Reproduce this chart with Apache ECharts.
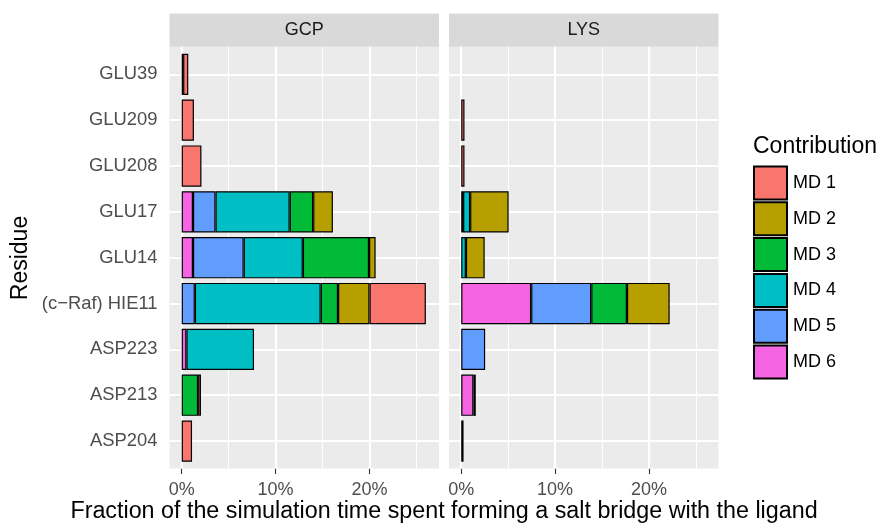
<!DOCTYPE html>
<html>
<head>
<meta charset="utf-8">
<script src="https://cdn.jsdelivr.net/npm/echarts@6/dist/echarts.min.js"></script>
<style>
  html, body { margin: 0; padding: 0; background: #ffffff; }
  #chart { width: 878px; height: 523px; }
</style>
</head>
<body>
<div id="chart"></div>
<script>
// Residues, top to bottom
const residues = ['GLU39', 'GLU209', 'GLU208', 'GLU17', 'GLU14', '(c\u2212Raf) HIE11', 'ASP223', 'ASP213', 'ASP204'];
const runs = ['MD 1', 'MD 2', 'MD 3', 'MD 4', 'MD 5', 'MD 6'];
const panelNames = ['GCP', 'LYS'];
const xTickValues = [0, 10, 20];
const xMinorValues = [5, 15, 25];

// Salt-bridge time fraction (%) per residue, GCP
const gcpMD1 = [0.55, 1.3, 2.1, 0, 0, 6.0, 0, 0.3, 1.1];
const gcpMD2 = [0, 0, 0, 2.1, 0.7, 3.35, 0, 0, 0];
const gcpMD3 = [0, 0, 0, 2.5, 7.05, 1.85, 0, 1.75, 0];
const gcpMD4 = [0, 0, 0, 7.9, 6.3, 13.4, 7.2, 0, 0];
const gcpMD5 = [0, 0, 0, 2.4, 5.4, 1.4, 0, 0, 0];
const gcpMD6 = [0.15, 0, 0, 1.2, 1.2, 0, 0.5, 0, 0];

// Salt-bridge time fraction (%) per residue, LYS
const lysMD1 = [0, 0.35, 0.35, 0, 0, 0, 0, 0, 0.25];
const lysMD2 = [0, 0, 0, 4.1, 2.0, 4.55, 0, 0, 0];
const lysMD3 = [0, 0, 0, 0, 0, 3.8, 0, 0.25, 0];
const lysMD4 = [0, 0, 0, 0.75, 0.5, 0, 0, 0, 0];
const lysMD5 = [0, 0, 0, 0, 0, 6.4, 2.55, 0, 0];
const lysMD6 = [0, 0, 0, 0.2, 0, 7.45, 0, 1.3, 0];

const panelData = [
  [gcpMD1, gcpMD2, gcpMD3, gcpMD4, gcpMD5, gcpMD6],
  [lysMD1, lysMD2, lysMD3, lysMD4, lysMD5, lysMD6]
];

const runColors = ['#F8766D', '#B79F00', '#00BA38', '#00BFC4', '#619CFF', '#F564E3'];
const FONT = '"Liberation Sans", Arial, Helvetica, sans-serif';

// Layout
const panelLeft = [169.5, 449];
const panelWidth = 269.5;
const panelTop = 46.8;
const panelHeight = 421.7;
const bandTop = 51.4;
const bandHeight = 412.6;
const stripTop = 13.5;
const xMin = -1.3, xMax = 27.4;

const grids = [], xAxes = [], yAxes = [], series = [], graphics = [];

panelNames.forEach((name, p) => {
  // panel background grid (grid index 2p) and bar grid (2p+1)
  grids.push({ left: panelLeft[p], top: panelTop, width: panelWidth, height: panelHeight,
    show: true, backgroundColor: '#EBEBEB', borderWidth: 0, containLabel: false });
  grids.push({ left: panelLeft[p], top: bandTop, width: panelWidth, height: bandHeight,
    show: false, containLabel: false });

  xAxes.push({
    type: 'value', gridIndex: 2 * p, min: xMin, max: xMax,
    axisLine: { show: false },
    splitLine: { show: false },
    axisTick: { show: true, customValues: xTickValues, length: 5.5, lineStyle: { color: '#333333', width: 1.1 } },
    axisLabel: { show: true, customValues: xTickValues, formatter: '{value}%', margin: 13,
      color: '#4D4D4D', fontSize: 18, fontFamily: FONT }
  });
  xAxes.push({ type: 'value', gridIndex: 2 * p + 1, min: xMin, max: xMax, show: false });

  yAxes.push({ type: 'value', gridIndex: 2 * p, min: 0, max: 1, show: false });
  yAxes.push({
    type: 'category', gridIndex: 2 * p + 1, data: residues, inverse: true,
    axisLine: { show: false },
    splitLine: { show: false },
    axisTick: { show: p === 0, alignWithLabel: true, length: 5.5, lineStyle: { color: '#333333', width: 1.1 } },
    axisLabel: { show: p === 0, margin: 12, color: '#4D4D4D', fontSize: 18.4, fontFamily: FONT }
  });

  // vertical grid lines
  const vLines = [];
  xMinorValues.forEach(v => vLines.push({ xAxis: v, lineStyle: { width: 1.1 } }));
  xTickValues.forEach(v => vLines.push({ xAxis: v, lineStyle: { width: 2.2 } }));
  series.push({
    type: 'line', name: 'vgrid' + p, xAxisIndex: 2 * p, yAxisIndex: 2 * p, data: [],
    silent: true, z: 1,
    markLine: { silent: true, symbol: 'none', z: 1, animation: false, label: { show: false },
      lineStyle: { color: '#FFFFFF', type: 'solid' }, data: vLines }
  });
  // horizontal grid lines at residues
  series.push({
    type: 'line', name: 'hgrid' + p, xAxisIndex: 2 * p + 1, yAxisIndex: 2 * p + 1, data: [],
    silent: true, z: 1,
    markLine: { silent: true, symbol: 'none', z: 1, animation: false, label: { show: false },
      lineStyle: { color: '#FFFFFF', type: 'solid', width: 2.2 },
      data: residues.map(r => ({ yAxis: r })) }
  });

  // stacked bars: MD 6 nearest zero, MD 1 outermost
  for (let k = runs.length - 1; k >= 0; k--) {
    series.push({
      type: 'bar', name: runs[k], stack: name,
      xAxisIndex: 2 * p + 1, yAxisIndex: 2 * p + 1,
      barWidth: '90%', z: 3,
      itemStyle: { color: runColors[k], borderColor: '#000000', borderWidth: 1.2 },
      emphasis: { disabled: true },
      data: panelData[p][k].map(v => (v > 0 ? v : '-'))
    });
  }

  // facet strip
  graphics.push({
    type: 'rect', left: panelLeft[p], top: stripTop, z: 0,
    shape: { width: panelWidth, height: panelTop - stripTop },
    style: { fill: '#D9D9D9' }
  });
  graphics.push({
    type: 'text', x: panelLeft[p] + panelWidth / 2, y: (stripTop + panelTop) / 2, z: 1,
    style: { text: name, fill: '#1A1A1A', font: '18px ' + FONT, align: 'center', verticalAlign: 'middle' }
  });
});

// axis titles and legend title
graphics.push({
  type: 'text', x: (panelLeft[0] + panelLeft[1] + panelWidth) / 2, y: 512,
  style: { text: 'Fraction of the simulation time spent forming a salt bridge with the ligand',
    fill: '#000000', font: '23.3px ' + FONT, align: 'center', verticalAlign: 'middle' }
});
graphics.push({
  type: 'text', x: 21, y: 258, rotation: Math.PI / 2,
  style: { text: 'Residue', fill: '#000000', font: '23px ' + FONT, align: 'center', verticalAlign: 'middle' }
});
graphics.push({
  type: 'text', x: 753, y: 147,
  style: { text: 'Contribution', fill: '#000000', font: '23px ' + FONT, align: 'left', verticalAlign: 'middle' }
});

const chart = echarts.init(document.getElementById('chart'), null, { renderer: 'canvas' });
chart.setOption({
  animation: false,
  backgroundColor: '#FFFFFF',
  grid: grids,
  xAxis: xAxes,
  yAxis: yAxes,
  legend: {
    data: runs, orient: 'vertical', left: 753, top: 165.5, padding: 0,
    itemWidth: 33, itemHeight: 33, itemGap: 0.8, icon: 'rect',
    selectedMode: false,
    textStyle: { fontSize: 18, fontFamily: FONT, color: '#000000', padding: [0, 0, 0, 1] }
  },
  graphic: graphics,
  series: series
});
</script>
</body>
</html>
